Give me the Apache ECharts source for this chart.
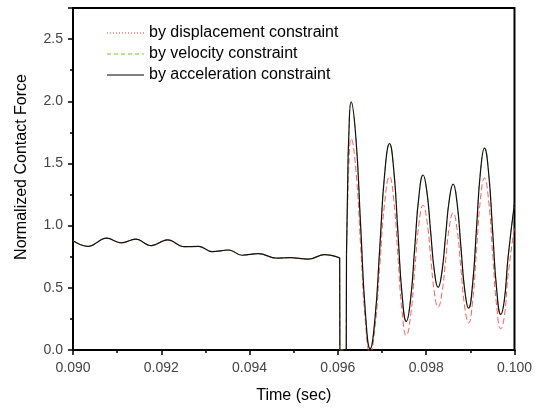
<!DOCTYPE html>
<html>
<head>
<meta charset="utf-8">
<script src="https://cdn.jsdelivr.net/npm/echarts@6/dist/echarts.min.js"></script>
<style>html,body{margin:0;padding:0;background:#fff;}#c{width:535px;height:409px;}</style>
</head>
<body>
<div id="c"></div>
<script>
// Pre-impact part (all three constraints coincide)
var timePre = [0.09000,0.09034,0.09076,0.09109,0.09142,0.09177,0.09214,0.09252,0.09285,0.09315,0.09353,0.09383,0.09420,0.09461,0.09491,0.09533,0.09570,0.09604];
var forcePre = [0.878,0.833,0.899,0.862,0.891,0.839,0.886,0.831,0.833,0.791,0.804,0.762,0.775,0.738,0.743,0.730,0.767,0.741];

// Impact drop and gap
var timeDrop = [0.09604,0.096045,0.09619,0.096195];
var forceDrop = [0.741,0.0,0.0,0.77];

// Post-impact oscillation
var timePost = [0.096195,0.09622,0.096245,0.09630,0.096408,0.096515,0.096623,0.09673,0.09684,0.09695,0.09706,0.09717,0.097265,0.09736,0.097455,0.09755,0.097645,0.09774,0.097835,0.09793,0.098015,0.0981,0.098185,0.09827,0.098355,0.09844,0.098525,0.09861,0.098698,0.098785,0.098873,0.09896,0.09905,0.09914,0.09923,0.09932,0.099413,0.099505,0.099598,0.09969,0.09977,0.099855,0.1];
var forceAcc  = [0.77,1.30,1.70,1.995,1.705,1.00,0.30,0.01,0.251,0.83,1.418,1.659,1.45,0.945,0.439,0.23,0.402,0.82,1.235,1.407,1.275,0.955,0.635,0.503,0.624,0.92,1.212,1.333,1.187,0.835,0.482,0.336,0.524,0.98,1.436,1.624,1.429,0.955,0.481,0.286,0.40,0.746,1.18];
var forceVel  = [0.77,1.30,1.70,1.995,1.705,1.00,0.30,0.01,0.251,0.83,1.418,1.659,1.45,0.945,0.439,0.23,0.402,0.82,1.235,1.407,1.275,0.955,0.635,0.503,0.624,0.92,1.212,1.333,1.187,0.835,0.482,0.336,0.524,0.98,1.436,1.624,1.429,0.955,0.481,0.286,0.40,0.746,1.18];
var forceDisp = [0.77,1.15,1.45,1.70,1.447,0.835,0.223,-0.03,0.178,0.68,1.186,1.394,1.208,0.755,0.303,0.117,0.27,0.64,1.011,1.164,1.044,0.755,0.464,0.344,0.455,0.72,0.992,1.103,0.974,0.66,0.346,0.217,0.387,0.80,1.213,1.383,1.206,0.775,0.347,0.170,0.27,0.60,0.99];

var xTicks = ['0.090','0.092','0.094','0.096','0.098','0.100'];
var yTicks = ['0.0','0.5','1.0','1.5','2.0','2.5'];
var names = ['by displacement constraint','by velocity constraint','by acceleration constraint'];

function pairs(t, v){ return t.map(function(x,i){ return [x, v[i]]; }); }

var FONT = 'Liberation Sans, Arial, sans-serif';
var dispStyle = {color:'#ff5a5a', width:1, type:[6,3]};
var velStyle  = {color:'#88cc66', width:1, type:[4,3]};
var accStyle  = {color:'#111111', width:1.2, type:'solid'};

function mk(name, data, style, smooth, z){
  return {name:name, type:'line', data:data, smooth:smooth, symbol:'none', showSymbol:false,
          lineStyle:style, itemStyle:{color:style.color}, z:z, clip:true, animation:false};
}

var series = [];
[[names[0], forceDisp, dispStyle, 2],[names[1], forceVel, velStyle, 3],[names[2], forceAcc, accStyle, 4]].forEach(function(s){
  series.push(mk(s[0], pairs(timePre, forcePre), s[2], 0.4, s[3]));
  series.push(mk(s[0], pairs(timeDrop, forceDrop), s[2], false, s[3]));
  series.push(mk(s[0], pairs(timePost, s[1]), s[2], 0.5, s[3]));
});

var chart = echarts.init(document.getElementById('c'), null, {renderer:'canvas'});
chart.setOption({
  animation:false,
  backgroundColor:'#fff',
  textStyle:{fontFamily:FONT},
  grid:{left:73, right:17, top:8, bottom:55, show:true, borderColor:'#000', borderWidth:2, backgroundColor:'transparent'},
  legend:{
    orient:'vertical', left:101, top:20, itemWidth:37, itemHeight:14, itemGap:5,
    textStyle:{fontSize:16, lineHeight:16, color:'#000', fontFamily:FONT},
    selectedMode:false,
    data:[
      {name:names[0], itemStyle:{opacity:0}, lineStyle:{color:'#ff3333', width:1, type:[1,2]}},
      {name:names[1], itemStyle:{opacity:0}, lineStyle:{color:'#99dd77', width:1.5, type:[4,3]}},
      {name:names[2], itemStyle:{opacity:0}, lineStyle:{color:'#808080', width:2, type:'solid'}}
    ]
  },
  xAxis:{
    type:'value', min:0.090, max:0.100, interval:0.002,
    name:'Time (sec)', nameLocation:'middle', nameGap:38,
    nameTextStyle:{fontSize:16, color:'#000', fontFamily:FONT},
    axisLine:{onZero:false, lineStyle:{color:'#000', width:2}},
    axisTick:{show:true, inside:false, length:5, lineStyle:{color:'#000', width:1.5}},
    minorTick:{show:true, splitNumber:2, length:3, lineStyle:{color:'#000', width:1.5}},
    splitLine:{show:false},
    axisLabel:{fontSize:14, color:'#444', margin:11, fontFamily:FONT,
      formatter:function(v){ var i=Math.round((v-0.090)/0.002); return xTicks[i]!==undefined && Math.abs(v-(0.090+i*0.002))<1e-9 ? xTicks[i] : ''; }}
  },
  yAxis:{
    type:'value', min:0, max:2.75, interval:0.5,
    axisLine:{onZero:false, lineStyle:{color:'#000', width:2}},
    axisTick:{show:true, inside:false, length:5, lineStyle:{color:'#000', width:1.5}},
    minorTick:{show:true, splitNumber:2, length:3, lineStyle:{color:'#000', width:1.5}},
    splitLine:{show:false},
    axisLabel:{fontSize:14, color:'#444', margin:10, fontFamily:FONT,
      formatter:function(v){ var i=Math.round(v/0.5); return (Math.abs(v-i*0.5)<1e-9 && yTicks[i]!==undefined) ? yTicks[i] : ''; }}
  },
  graphic:[{
    type:'text', x:22, y:167, rotation:Math.PI/2,
    style:{text:'Normalized Contact Force', fontSize:16, fontFamily:FONT, fill:'#000',
           align:'center', verticalAlign:'middle', textAlign:'center', textVerticalAlign:'middle'}
  }],
  series:series
});
</script>
</body>
</html>
